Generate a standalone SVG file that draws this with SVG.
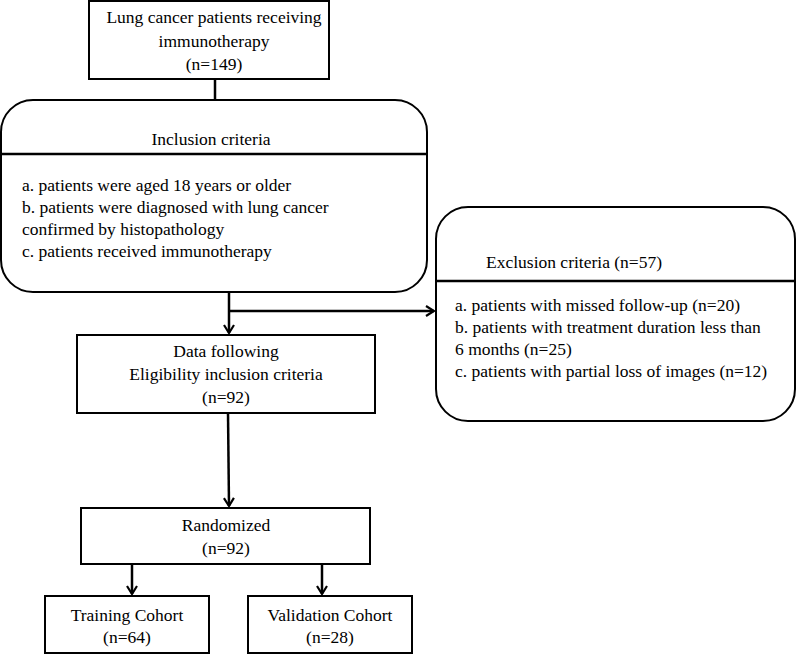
<svg xmlns="http://www.w3.org/2000/svg" width="797" height="654" viewBox="0 0 797 654">
<style>
.box{fill:#fff;stroke:#000;stroke-width:2}
.ln{fill:none;stroke:#000;stroke-width:2.5}
text{font-family:"Liberation Serif","Times New Roman",serif;font-size:17.5px;fill:#000}
.c{text-anchor:middle}
</style>
<defs>
<marker id="ah" viewBox="0 0 12 12" refX="10" refY="6" markerWidth="12" markerHeight="12" markerUnits="userSpaceOnUse" orient="auto">
<path d="M2,1 L10,6 L2,11" fill="none" stroke="#000" stroke-width="2.2"/>
</marker>
</defs>
<g id="connectors">
<line class="ln" x1="215" y1="80" x2="215" y2="100"/>
<line class="ln" x1="229" y1="292" x2="229" y2="333" marker-end="url(#ah)"/>
<line class="ln" x1="229" y1="311" x2="434" y2="311" marker-end="url(#ah)"/>
<line class="ln" x1="228" y1="413" x2="229" y2="506" marker-end="url(#ah)"/>
<line class="ln" x1="132" y1="564" x2="132" y2="594" marker-end="url(#ah)"/>
<line class="ln" x1="322" y1="564" x2="322" y2="594" marker-end="url(#ah)"/>
</g>
<g id="start">
<rect class="box" x="89" y="1" width="240" height="78"/>
<text class="c" x="214" y="23">Lung cancer patients receiving</text>
<text class="c" x="214" y="47">immunotherapy</text>
<text class="c" x="214" y="70">(n=149)</text>
</g>
<g id="inclusion">
<rect class="box" x="1" y="100" width="426" height="192" rx="32" ry="32"/>
<line class="ln" x1="1" y1="154" x2="427" y2="154" stroke-width="2"/>
<text class="c" x="211" y="145">Inclusion criteria</text>
<text x="22" y="191">a. patients were aged 18 years or older</text>
<text x="22" y="213">b. patients were diagnosed with lung cancer</text>
<text x="22" y="235">confirmed by histopathology</text>
<text x="22" y="257">c. patients received immunotherapy</text>
</g>
<g id="exclusion">
<rect class="box" x="436" y="207" width="359" height="214" rx="32" ry="32"/>
<line class="ln" x1="436" y1="281" x2="795" y2="281" stroke-width="2"/>
<text x="486" y="268">Exclusion criteria (n=57)</text>
<text x="455" y="311">a. patients with missed follow-up (n=20)</text>
<text x="455" y="333">b. patients with treatment duration less than</text>
<text x="455" y="355">6 months (n=25)</text>
<text x="455" y="377">c. patients with partial loss of images (n=12)</text>
</g>
<g id="eligible">
<rect class="box" x="77" y="335" width="298" height="78"/>
<text class="c" x="226" y="357">Data following</text>
<text class="c" x="226" y="380">Eligibility inclusion criteria</text>
<text class="c" x="226" y="403">(n=92)</text>
</g>
<g id="randomized">
<rect class="box" x="81" y="508" width="289" height="56"/>
<text class="c" x="226" y="531">Randomized</text>
<text class="c" x="226" y="554">(n=92)</text>
</g>
<g id="training">
<rect class="box" x="45" y="596" width="164" height="57"/>
<text class="c" x="127" y="621">Training Cohort</text>
<text class="c" x="127" y="643">(n=64)</text>
</g>
<g id="validation">
<rect class="box" x="248" y="596" width="164" height="57"/>
<text class="c" x="330" y="621">Validation Cohort</text>
<text class="c" x="330" y="643">(n=28)</text>
</g>
</svg>
